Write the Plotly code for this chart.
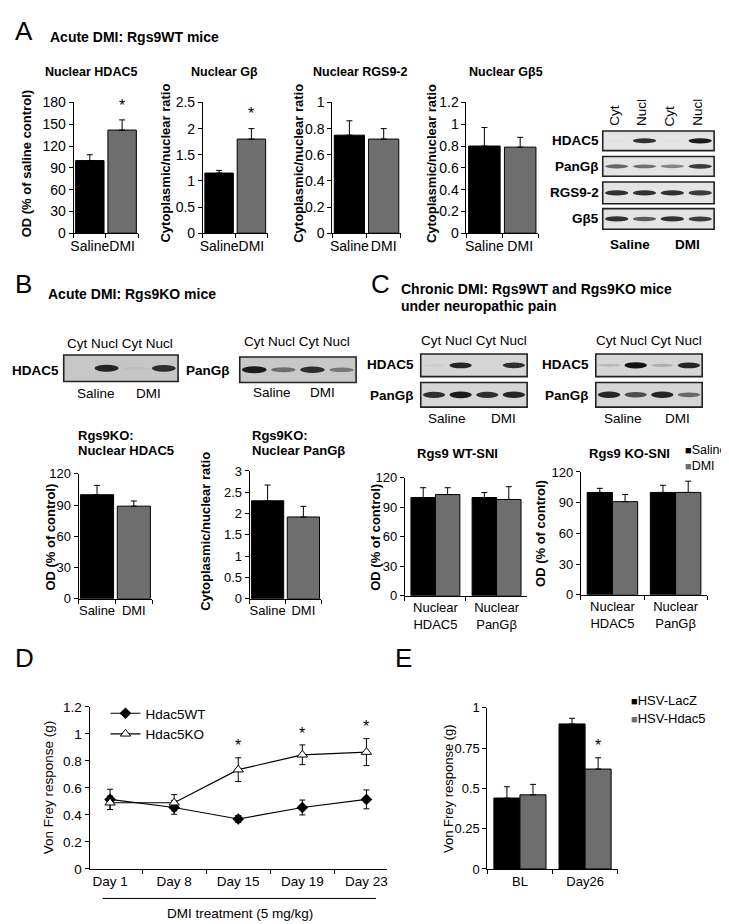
import plotly.graph_objects as go

W, H = 729, 924
FONT = "Liberation Sans, Arial, sans-serif"
BLACK = "#000000"
GRAY = "#6e6e6e"

# ---------------- data ----------------
a_groups = ["Saline", "DMI"]
a1_vals = [100, 142]; a1_err = [8, 14]
a2_vals = [1.15, 1.80]; a2_err = [0.05, 0.20]
a3_vals = [0.75, 0.72]; a3_err = [0.11, 0.08]
a4_vals = [0.80, 0.79]; a4_err = [0.17, 0.09]
a_sig = [True, True, False, False]  # A1..A4: DMI significant

b_groups = ["Saline", "DMI"]
b1_vals = [100, 89]; b1_err = [9, 5]
b2_vals = [2.30, 1.92]; b2_err = [0.37, 0.25]

c_cats = ["Nuclear<br>HDAC5", "Nuclear<br>PanGβ"]
c_series = ["Saline", "DMI"]
c1_saline = [100, 100]; c1_saline_err = [10, 5]
c1_dmi = [103, 98]; c1_dmi_err = [7, 13]
c2_saline = [100, 100]; c2_saline_err = [4, 7]
c2_dmi = [91, 100]; c2_dmi_err = [7, 11]

d_days = ["Day 1", "Day 8", "Day 15", "Day 19", "Day 23"]
d_wt = [0.515, 0.455, 0.37, 0.455, 0.515]
d_wt_err = [0.075, 0.05, 0.025, 0.055, 0.07]
d_ko = [0.49, 0.49, 0.735, 0.845, 0.865]
d_ko_err = [0.05, 0.06, 0.088, 0.073, 0.10]
d_sig = [False, False, True, True, True]

e_cats = ["BL", "Day26"]
e_series = ["HSV-LacZ", "HSV-Hdac5"]
e_lacz = [0.44, 0.90]; e_lacz_err = [0.07, 0.035]
e_hdac5 = [0.46, 0.62]; e_hdac5_err = [0.065, 0.07]
e_sig = [False, True]

# western blot band intensities (lanes: Cyt, Nucl, Cyt, Nucl)
blot_lanes = ["Cyt", "Nucl", "Cyt", "Nucl"]
blotA_rows = ["HDAC5", "PanGβ", "RGS9-2", "Gβ5"]
blotA_bands = [[0.03, 0.85, 0.03, 0.95],
               [0.60, 0.55, 0.45, 0.80],
               [0.85, 0.85, 0.85, 0.80],
               [0.85, 0.65, 0.85, 0.80]]
blotB1_bands = [0.0, 0.9, 0.05, 0.85]
blotB2_bands = [0.95, 0.5, 0.85, 0.45]
blotC1_bands = [[0.05, 0.9, 0.0, 0.85], [0.85, 0.95, 0.85, 0.9]]
blotC2_bands = [[0.15, 1.0, 0.2, 0.9], [0.9, 0.7, 0.9, 0.55]]

# ---------------- helpers ----------------
fig = go.Figure()
layout = {}
annotations = []
shapes = []


def fx(x):
    return x / W


def fy(y):
    return 1 - y / H


def refs(n):
    return ("x" if n == 1 else f"x{n}"), ("y" if n == 1 else f"y{n}")


def setup_axes(n, xpx, ypx, yrange, dtick, tsize, xsize=None):
    xr, yr = refs(n)
    xa = "xaxis" if n == 1 else f"xaxis{n}"
    ya = "yaxis" if n == 1 else f"yaxis{n}"
    layout[xa] = dict(domain=[fx(xpx[0]), fx(xpx[1])], anchor=yr, type="category",
                      showline=True, linecolor="black", linewidth=1, ticks="outside",
                      tickson="boundaries", ticklen=4, tickcolor="black", showgrid=False,
                      zeroline=False, tickangle=0, tickfont=dict(size=xsize or tsize, color="black"),
                      fixedrange=True)
    layout[ya] = dict(domain=[fy(ypx[1]), fy(ypx[0])], anchor=xr, range=yrange, dtick=dtick,
                      tick0=0, showline=True, linecolor="black", linewidth=1, ticks="outside",
                      ticklen=4, tickcolor="black", showgrid=False, zeroline=False,
                      tickfont=dict(size=tsize, color="black"), fixedrange=True)
    return xr, yr


def err(arr):
    return dict(type="data", array=arr, arrayminus=[0] * len(arr), symmetric=False,
                color="black", thickness=1, width=3)


def txt(x, y, text, size=13, bold=False, xanchor="center", yanchor="middle", angle=0, align="center"):
    annotations.append(dict(x=fx(x), y=fy(y), xref="paper", yref="paper", text=(f"<b>{text}</b>" if bold else text),
                            showarrow=False, font=dict(size=size, color="black", family=FONT),
                            xanchor=xanchor, yanchor=yanchor, textangle=angle, align=align))


def legend_item(x, y, color, label, size=12.5):
    txt(x, y, f'<span style="color:{color};font-size:11px">■</span>{label}', size, xanchor="left")


def star(xr, yr, x, y):
    annotations.append(dict(x=x, y=y, xref=xr, yref=yr, text="*", showarrow=False,
                            font=dict(size=16, color="black", family=FONT), yanchor="bottom"))


def single_bar(n, xpx, ypx, yrange, dtick, vals, errs, groups, tsize, width, sig, star_pad):
    xr, yr = setup_axes(n, xpx, ypx, yrange, dtick, tsize)
    fig.add_trace(go.Bar(x=groups, y=vals, marker=dict(color=[BLACK, GRAY], line=dict(color="black", width=1)),
                         width=width, error_y=err(errs), xaxis=xr, yaxis=yr, showlegend=False))
    if sig:
        star(xr, yr, 1, vals[1] + errs[1] + star_pad)


def band_color(bg, t):
    v = int(bg - t * (bg - 18))
    return f"rgb({v},{v},{v})"


def blot_strip(x0, x1, y0, y1, bands, bg=215):
    shapes.append(dict(type="rect", xref="paper", yref="paper", x0=fx(x0), x1=fx(x1), y0=fy(y1), y1=fy(y0),
                       fillcolor=f"rgb({bg},{bg},{bg})", line=dict(color="#222", width=1.6), layer="below"))
    lw = (x1 - x0) / len(bands)
    hh = (y1 - y0)
    for i, t in enumerate(bands):
        if t <= 0.02:
            continue
        cx = x0 + (i + 0.5) * lw
        cy = (y0 + y1) / 2
        bw = lw * 0.42
        bh = hh * (0.05 + 0.09 * t)
        shapes.append(dict(type="circle", xref="paper", yref="paper", x0=fx(cx - bw), x1=fx(cx + bw),
                           y0=fy(cy + bh), y1=fy(cy - bh), fillcolor=band_color(bg, t),
                           line=dict(width=0), layer="above"))


# ---------------- Panel A ----------------
txt(2, 15, "A", size=26, xanchor="left")
txt(37, 21, "Acute DMI: Rgs9WT mice", size=14, bold=True, xanchor="left")

A_Y = (88, 221)
single_bar(1, (63, 128), A_Y, [0, 180], 30, a1_vals, a1_err, a_groups, 14, 0.88, a_sig[0], 6)
single_bar(2, (193, 258), A_Y, [0, 2.5], 0.5, a2_vals, a2_err, a_groups, 14, 0.88, a_sig[1], 0.08)
single_bar(3, (323, 392), A_Y, [0, 1], 0.2, a3_vals, a3_err, a_groups, 14, 0.88, a_sig[2], 0.04)
single_bar(4, (458, 530), A_Y, [0, 1.2], 0.2, a4_vals, a4_err, a_groups, 14, 0.88, a_sig[3], 0.04)

txt(80, 57, "Nuclear HDAC5", 12.5, True)
txt(215, 57, "Nuclear Gβ", 12.5, True)
txt(351, 57, "Nuclear RGS9-2", 12.5, True)
txt(498, 57, "Nuclear Gβ5", 12.5, True)
txt(15, 150, "OD (% of saline control)", 13, True, angle=-90)
txt(155, 150, "Cytoplasmic/nuclear ratio", 13, True, angle=-90)
txt(289, 150, "Cytoplasmic/nuclear ratio", 13, True, angle=-90)
txt(423, 150, "Cytoplasmic/nuclear ratio", 13, True, angle=-90)

# blot A
BA_X = (595, 707)
BA_ROWS = [(117, 137), (143, 163), (169, 191), (196, 217)]
for name, (y0, y1), bands in zip(blotA_rows, BA_ROWS, blotA_bands):
    blot_strip(BA_X[0], BA_X[1], y0, y1, bands, bg=228)
    txt(593, (y0 + y1) / 2, name, 13.5, True, xanchor="right")
lw = (BA_X[1] - BA_X[0]) / 4
for i, lab in enumerate(blot_lanes):
    txt(BA_X[0] + (i + 0.5) * lw - 3, 114, lab, 13.5, False, yanchor="bottom", angle=-90)
txt(622, 233, "Saline", 13.5, True)
txt(680, 233, "DMI", 13.5, True)

# ---------------- Panel B ----------------
txt(2, 273, "B", size=26, xanchor="left")
txt(35, 283, "Acute DMI: Rgs9KO mice", size=14, bold=True, xanchor="left")

blot_strip(53, 168, 345, 372, blotB1_bands, bg=198)
txt(110, 333, " ".join(blot_lanes), 13.5)
txt(50, 361, "HDAC5", 13.5, True, xanchor="right")
txt(85, 384, "Saline", 13.5)
txt(138, 384, "DMI", 13.5)

blot_strip(230, 347, 347, 373, blotB2_bands, bg=200)
txt(288, 331, " ".join(blot_lanes), 13.5)
txt(222, 361, "PanGβ", 13.5, True, xanchor="right")
txt(262, 383, "Saline", 13.5)
txt(313, 383, "DMI", 13.5)

txt(65, 427, "Rgs9KO:", 13, True, xanchor="left")
txt(65, 442, "Nuclear HDAC5", 13, True, xanchor="left")
txt(240, 427, "Rgs9KO:", 13, True, xanchor="left")
txt(240, 442, "Nuclear PanGβ", 13, True, xanchor="left")

single_bar(5, (68, 142), (466, 593), [0, 120], 30, b1_vals, b1_err, b_groups, 13, 0.9, False, 0)
single_bar(6, (240, 312), (463, 593), [0, 3], 0.5, b2_vals, b2_err, b_groups, 13, 0.9, False, 0)
txt(40, 530, "OD (% of control)", 13, True, angle=-90)
txt(196, 524, "Cytoplasmic/nuclear ratio", 13, True, angle=-90)

# ---------------- Panel C ----------------
txt(360, 273, "C", size=26, xanchor="left")
txt(390, 278, "Chronic DMI: Rgs9WT and Rgs9KO mice", 14, True, xanchor="left")
txt(390, 295, "under neuropathic pain", 14, True, xanchor="left")

for (bx0, bx1), rows, lab_x, sal_x, dmi_x in [((412, 519), blotC1_bands, 407, 438, 495),
                                               ((588, 695), blotC2_bands, 583, 615, 670)]:
    blot_strip(bx0, bx1, 344, 367, rows[0], bg=214)
    blot_strip(bx0, bx1, 373, 398, rows[1], bg=214)
    txt((bx0 + bx1) / 2, 330, " ".join(blot_lanes), 13.5)
    txt(lab_x, 355, "HDAC5", 13.5, True, xanchor="right")
    txt(lab_x, 386, "PanGβ", 13.5, True, xanchor="right")
    txt(sal_x, 410, "Saline", 13.5)
    txt(dmi_x, 410, "DMI", 13.5)

for n, xpx, ypx, sal, sal_e, dmi, dmi_e in [
        (7, (396, 519), (470, 590), c1_saline, c1_saline_err, c1_dmi, c1_dmi_err),
        (8, (573, 700), (464, 589), c2_saline, c2_saline_err, c2_dmi, c2_dmi_err)]:
    xr, yr = setup_axes(n, xpx, ypx, [0, 120], 30, 13)
    fig.add_trace(go.Bar(x=c_cats, y=sal, name=c_series[0], offset=-0.4, width=0.4,
                         marker=dict(color=BLACK, line=dict(color="black", width=1)),
                         error_y=err(sal_e), xaxis=xr, yaxis=yr, showlegend=False))
    fig.add_trace(go.Bar(x=c_cats, y=dmi, name=c_series[1], offset=0.0, width=0.4,
                         marker=dict(color=GRAY, line=dict(color="black", width=1)),
                         error_y=err(dmi_e), xaxis=xr, yaxis=yr, showlegend=False))
txt(449, 445, "Rgs9 WT-SNI", 13, True)
txt(622, 445, "Rgs9 KO-SNI", 13, True)
txt(367, 530, "OD (% of control)", 13, True, angle=-90)
txt(533, 527, "OD (% of control)", 13, True, angle=-90)
legend_item(676, 442, BLACK, c_series[0])
legend_item(676, 458, GRAY, c_series[1])

# ---------------- Panel D ----------------
txt(2, 653, "D", size=26, xanchor="left")
xr, yr = setup_axes(9, (79, 378), (703, 868), [0, 1.2], 0.2, 13.5)
fig.add_trace(go.Scatter(x=d_days, y=d_wt, name="Hdac5WT", mode="lines+markers",
                         line=dict(color="black", width=1.2),
                         marker=dict(symbol="diamond", size=9, color="black"),
                         error_y=dict(type="data", array=d_wt_err, color="black", thickness=1, width=3),
                         xaxis=xr, yaxis=yr, legend="legend"))
fig.add_trace(go.Scatter(x=d_days, y=d_ko, name="Hdac5KO", mode="lines+markers",
                         line=dict(color="black", width=1.2),
                         marker=dict(symbol="triangle-up", size=9, color="white", line=dict(color="black", width=1)),
                         error_y=dict(type="data", array=d_ko_err, color="black", thickness=1, width=3),
                         xaxis=xr, yaxis=yr, legend="legend"))
for i, s in enumerate(d_sig):
    if s:
        star(xr, yr, i, d_ko[i] + d_ko_err[i] + 0.01)
txt(38, 785, "Von Frey response (g)", 13.5, False, angle=-90)
shapes.append(dict(type="line", xref="paper", yref="paper", x0=fx(92), x1=fx(367), y0=fy(898), y1=fy(898),
                   line=dict(color="black", width=1)))
txt(230, 913, "DMI treatment (5 mg/kg)", 13.5)

# ---------------- Panel E ----------------
txt(384, 653, "E", size=26, xanchor="left")
xr, yr = setup_axes(10, (479, 610), (704, 868), [0, 1], 0.25, 13)
fig.add_trace(go.Bar(x=e_cats, y=e_lacz, name=e_series[0], offset=-0.4, width=0.4,
                     marker=dict(color=BLACK, line=dict(color="black", width=1)),
                     error_y=err(e_lacz_err), xaxis=xr, yaxis=yr, showlegend=False))
fig.add_trace(go.Bar(x=e_cats, y=e_hdac5, name=e_series[1], offset=0.0, width=0.4,
                     marker=dict(color=GRAY, line=dict(color="black", width=1)),
                     error_y=err(e_hdac5_err), xaxis=xr, yaxis=yr, showlegend=False))
for i, s in enumerate(e_sig):
    if s:
        star(xr, yr, i + 0.2, e_hdac5[i] + e_hdac5_err[i] + 0.01)
txt(440, 786, "Von Frey response (g)", 13, False, angle=-90)
legend_item(621, 697, BLACK, e_series[0], 13)
legend_item(621, 715, GRAY, e_series[1], 13)

# ---------------- layout ----------------
layout["legend"] = dict(x=fx(95), y=fy(694), font=dict(size=13.5, color="black", family=FONT),
                        bgcolor="rgba(0,0,0,0)", xanchor="left", yanchor="top",
                        tracegroupgap=0, itemwidth=30)

fig.update_layout(width=W, height=H, margin=dict(l=0, r=0, t=0, b=0), autosize=False,
                  paper_bgcolor="white", plot_bgcolor="white", barmode="overlay",
                  font=dict(family=FONT, color="black"), showlegend=True,
                  annotations=annotations, shapes=shapes, **layout)

fig.write_html("out.html")
